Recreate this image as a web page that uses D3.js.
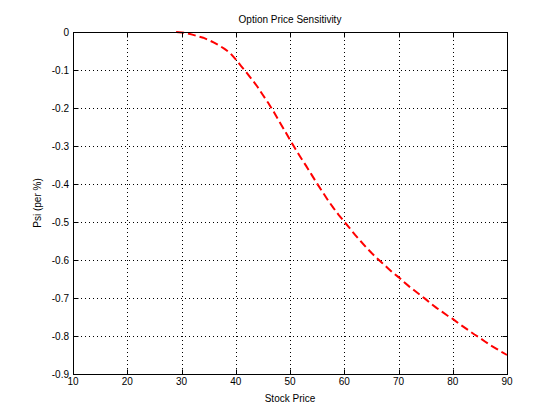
<!DOCTYPE html>
<html>
<head>
<meta charset="utf-8">
<script src="https://cdn.jsdelivr.net/npm/d3@7"></script>
<style>
  html, body { margin: 0; padding: 0; background: #fff; }
  svg { display: block; }
  text { font-family: "Liberation Sans", Arial, sans-serif; fill: #000; }
</style>
</head>
<body>
<script>
const stockPrice = [29, 30, 31, 32, 33, 34, 35, 36, 37, 38, 39, 40, 41, 42, 43, 44, 45, 46, 47, 48, 49,
  50, 51, 52, 53, 54, 55, 56, 57, 58, 59, 60, 61, 62, 63, 64, 65, 66, 67, 68, 69,
  70, 71, 72, 73, 74, 75, 76, 77, 78, 79, 80, 81, 82, 83, 84, 85, 86, 87, 88, 89, 90];
const psi = [0, -0.001, -0.003, -0.007, -0.011, -0.015, -0.021, -0.028, -0.036, -0.045, -0.056,
  -0.072, -0.090, -0.107, -0.125, -0.144, -0.166, -0.187, -0.210, -0.235, -0.259,
  -0.284, -0.308, -0.331, -0.353, -0.376, -0.399, -0.421, -0.443, -0.463, -0.482,
  -0.499, -0.516, -0.534, -0.550, -0.566, -0.581, -0.595, -0.608, -0.621, -0.634,
  -0.645, -0.658, -0.670, -0.681, -0.692, -0.703, -0.715, -0.726, -0.736, -0.746,
  -0.755, -0.766, -0.776, -0.786, -0.796, -0.805, -0.815, -0.825, -0.833, -0.842, -0.850];
const xTicks = [10, 20, 30, 40, 50, 60, 70, 80, 90];
const yTicks = [0, -0.1, -0.2, -0.3, -0.4, -0.5, -0.6, -0.7, -0.8, -0.9];
const yTickLabels = ["0", "-0.1", "-0.2", "-0.3", "-0.4", "-0.5", "-0.6", "-0.7", "-0.8", "-0.9"];
const titleText = "Option Price Sensitivity";
const xLabel = "Stock Price";
const yLabel = "Psi (per %)";

const W = 560, H = 420;
const L = 73, R = 507, T = 32, B = 374;

const svg = d3.select("body").append("svg").attr("width", W).attr("height", H);

const x = d3.scaleLinear().domain([10, 90]).range([L, R]);
const y = d3.scaleLinear().domain([-0.9, 0]).range([B, T]);
const px = v => Math.round(v) + 0.5;

// grid
const grid = svg.append("g").attr("stroke", "#000").attr("stroke-width", 1).attr("stroke-dasharray", "1,3");
xTicks.slice(1, -1).forEach(t => {
  grid.append("line").attr("x1", px(x(t))).attr("x2", px(x(t))).attr("y1", T).attr("y2", B);
});
yTicks.slice(1, -1).forEach(t => {
  grid.append("line").attr("x1", L).attr("x2", R).attr("y1", px(y(t))).attr("y2", px(y(t)));
});

// data line
const line = d3.line().x((d, i) => x(stockPrice[i])).y(d => y(d));
svg.append("path").datum(psi).attr("d", line)
  .attr("fill", "none").attr("stroke", "#ff0000").attr("stroke-width", 2)
  .attr("stroke-dasharray", "8,4");

// frame
svg.append("rect").attr("x", px(L)).attr("y", px(T)).attr("width", Math.round(R - L)).attr("height", Math.round(B - T))
  .attr("fill", "none").attr("stroke", "#000").attr("stroke-width", 1);

// ticks (inward, all sides)
const tk = svg.append("g").attr("stroke", "#000").attr("stroke-width", 1);
const tl = 5;
xTicks.forEach(t => {
  const xx = px(x(t));
  tk.append("line").attr("x1", xx).attr("x2", xx).attr("y1", px(B)).attr("y2", px(B) - tl);
  tk.append("line").attr("x1", xx).attr("x2", xx).attr("y1", px(T)).attr("y2", px(T) + tl);
});
yTicks.forEach(t => {
  const yy = px(y(t));
  tk.append("line").attr("x1", px(L)).attr("x2", px(L) + tl).attr("y1", yy).attr("y2", yy);
  tk.append("line").attr("x1", px(R)).attr("x2", px(R) - tl).attr("y1", yy).attr("y2", yy);
});

// tick labels
svg.append("g").selectAll("text").data(xTicks).join("text")
  .attr("x", d => x(d)).attr("y", B + 11).attr("text-anchor", "middle")
  .attr("font-size", 10).text(d => d);
svg.append("g").selectAll("text").data(yTicks).join("text")
  .attr("x", L - 4).attr("y", d => y(d) + 3.5).attr("text-anchor", "end")
  .attr("font-size", 10).text((d, i) => yTickLabels[i]);

// title and axis labels
svg.append("text").attr("x", (L + R) / 2).attr("y", 23).attr("text-anchor", "middle")
  .attr("font-size", 10).text(titleText);
svg.append("text").attr("x", (L + R) / 2).attr("y", 402).attr("text-anchor", "middle")
  .attr("font-size", 10).text(xLabel);
svg.append("text").attr("transform", `translate(41,${(T + B) / 2}) rotate(-90)`)
  .attr("text-anchor", "middle").attr("font-size", 10).text(yLabel);
</script>
</body>
</html>
